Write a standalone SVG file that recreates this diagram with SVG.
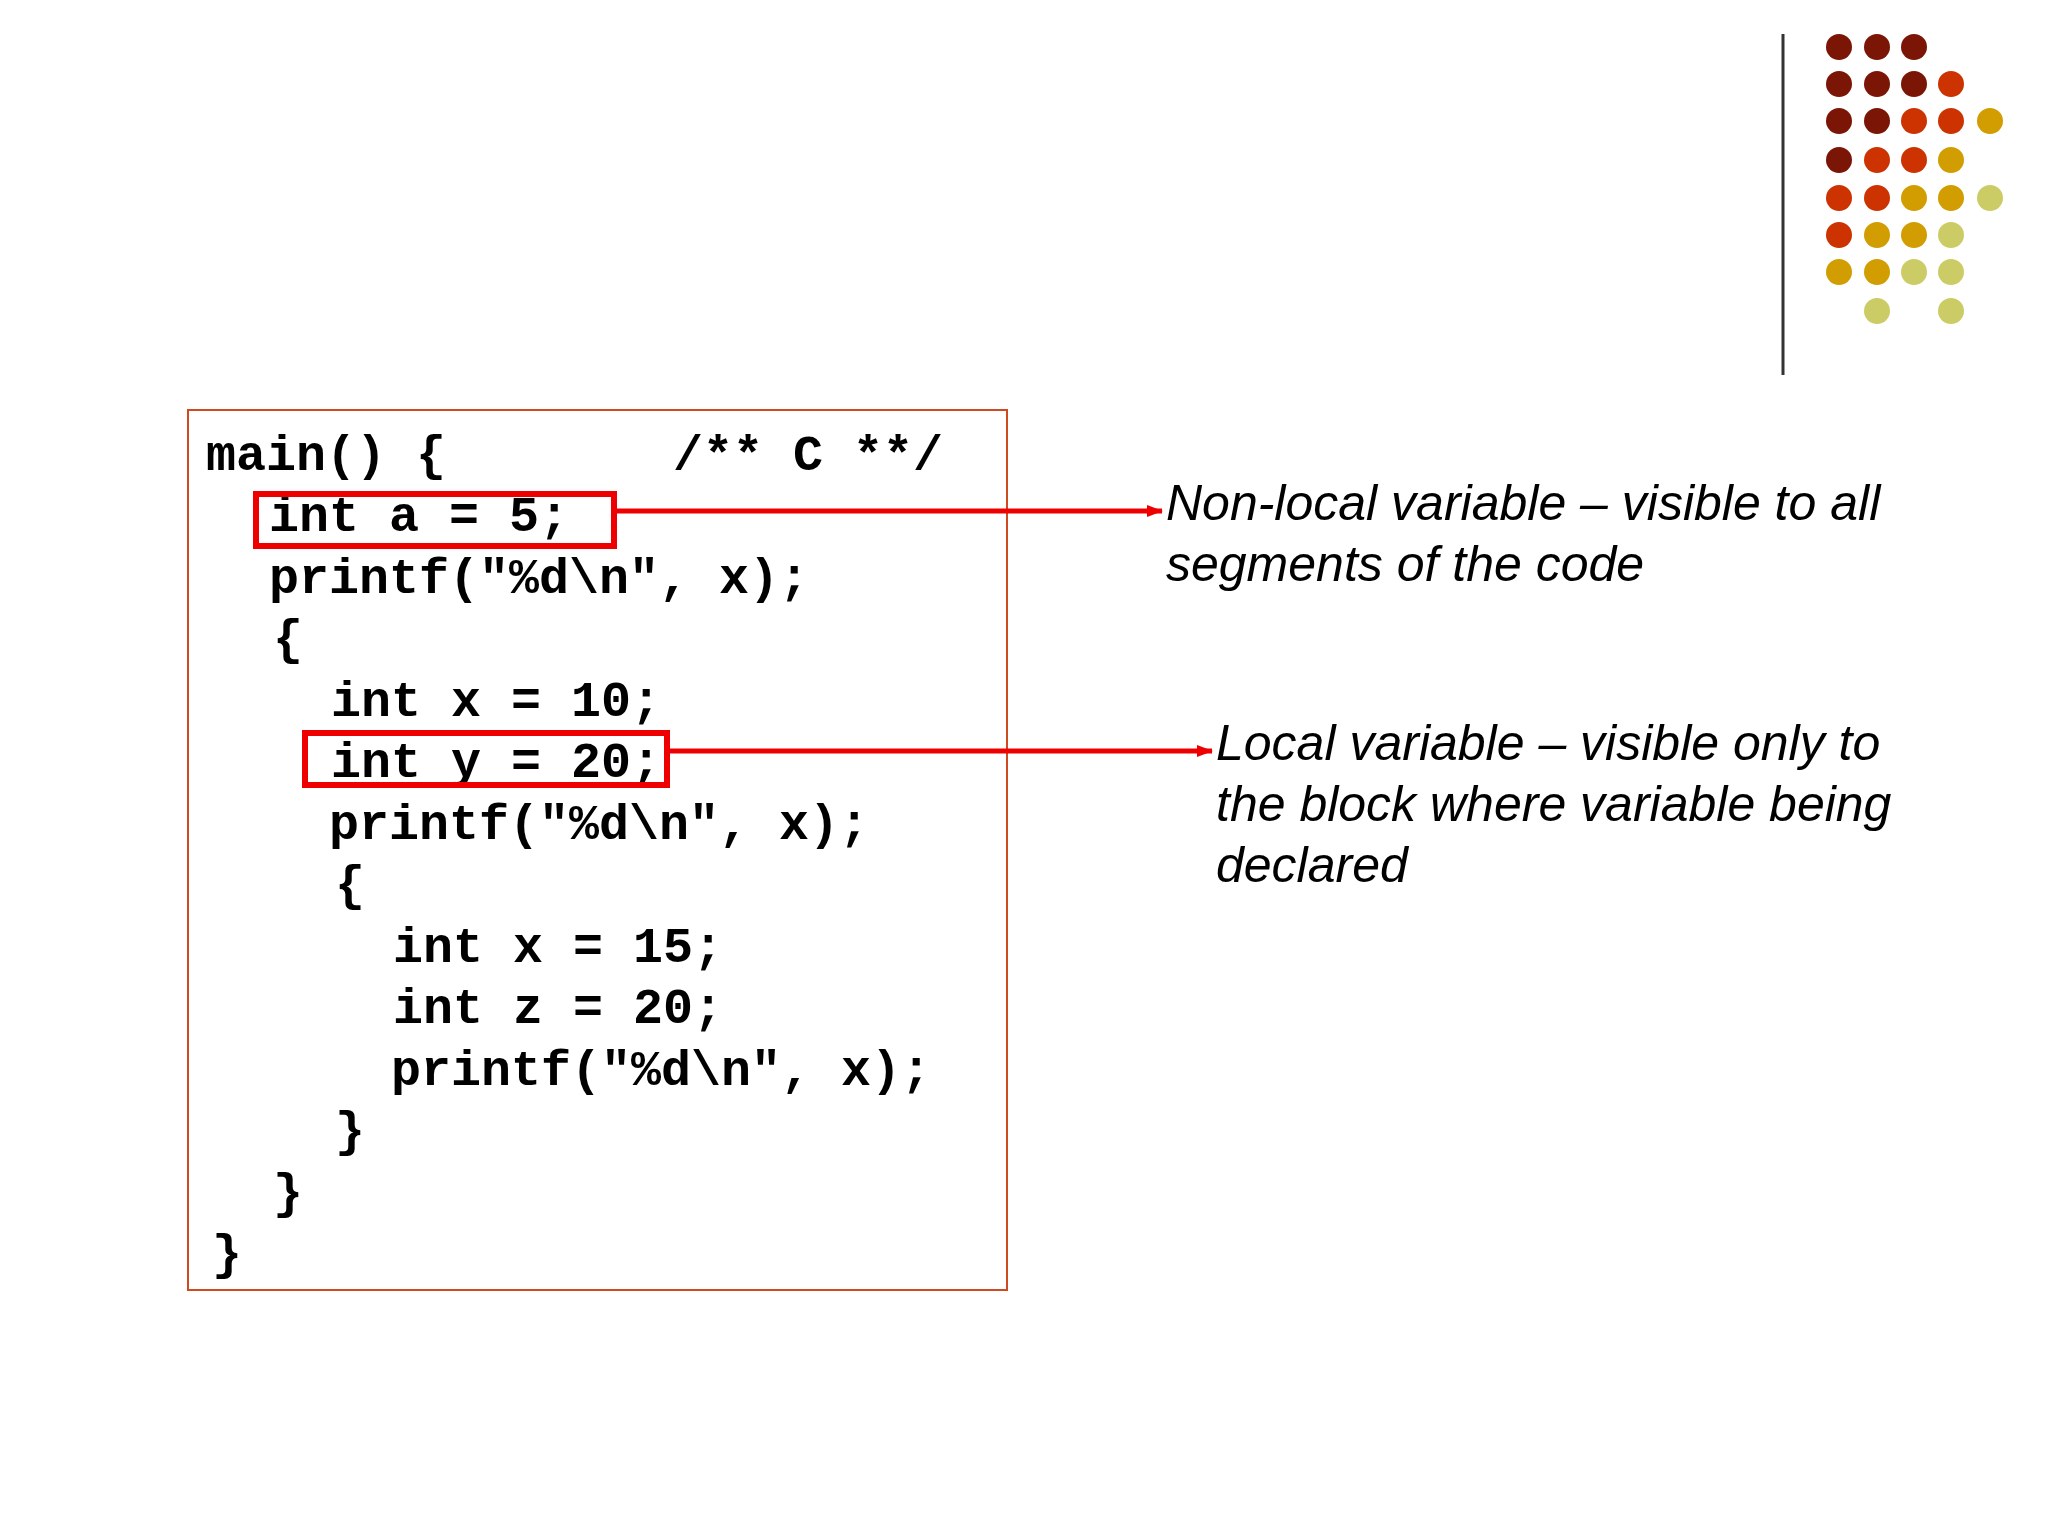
<svg xmlns="http://www.w3.org/2000/svg" width="2048" height="1536" viewBox="0 0 2048 1536">
<style>
.code{font-family:"Liberation Mono","Courier New",monospace;font-weight:bold;font-size:50px;fill:#000}
.note{font-family:"Liberation Sans",Arial,sans-serif;font-style:italic;font-size:50px;fill:#000}
.hl{fill:none;stroke:#ee0000;stroke-width:6}
.arr{stroke:#ee0000;stroke-width:5;fill:none}
.d{fill:#7b1505}.o{fill:#cc3300}.g{fill:#d19d00}.l{fill:#cccc66}
</style>
<defs><marker id="ah" markerWidth="16" markerHeight="12" refX="15" refY="6" orient="auto" markerUnits="userSpaceOnUse"><path d="M0,0 L16,6 L0,12 z" fill="#ee0000"/></marker></defs>
<g id="decor">
<line x1="1783" y1="34" x2="1783" y2="375" stroke="#333" stroke-width="3"/>
<circle class="d" cx="1839" cy="47" r="13"/><circle class="d" cx="1877" cy="47" r="13"/><circle class="d" cx="1914" cy="47" r="13"/>
<circle class="d" cx="1839" cy="84" r="13"/><circle class="d" cx="1877" cy="84" r="13"/><circle class="d" cx="1914" cy="84" r="13"/><circle class="o" cx="1951" cy="84" r="13"/>
<circle class="d" cx="1839" cy="121" r="13"/><circle class="d" cx="1877" cy="121" r="13"/><circle class="o" cx="1914" cy="121" r="13"/><circle class="o" cx="1951" cy="121" r="13"/><circle class="g" cx="1990" cy="121" r="13"/>
<circle class="d" cx="1839" cy="160" r="13"/><circle class="o" cx="1877" cy="160" r="13"/><circle class="o" cx="1914" cy="160" r="13"/><circle class="g" cx="1951" cy="160" r="13"/>
<circle class="o" cx="1839" cy="198" r="13"/><circle class="o" cx="1877" cy="198" r="13"/><circle class="g" cx="1914" cy="198" r="13"/><circle class="g" cx="1951" cy="198" r="13"/><circle class="l" cx="1990" cy="198" r="13"/>
<circle class="o" cx="1839" cy="235" r="13"/><circle class="g" cx="1877" cy="235" r="13"/><circle class="g" cx="1914" cy="235" r="13"/><circle class="l" cx="1951" cy="235" r="13"/>
<circle class="g" cx="1839" cy="272" r="13"/><circle class="g" cx="1877" cy="272" r="13"/><circle class="l" cx="1914" cy="272" r="13"/><circle class="l" cx="1951" cy="272" r="13"/>
<circle class="l" cx="1877" cy="311" r="13"/><circle class="l" cx="1951" cy="311" r="13"/>
</g>
<g id="code">
<rect x="188" y="410" width="819" height="880" fill="none" stroke="#d04a20" stroke-width="2"/>
<text class="code" x="206" y="470">main() {</text>
<text class="code" x="673" y="470">/** C **/</text>
<text class="code" x="269" y="531">int a = 5;</text>
<text class="code" x="269" y="593">printf("%d\n", x);</text>
<text class="code" x="273" y="654">{</text>
<text class="code" x="331" y="716">int x = 10;</text>
<text class="code" x="331" y="777">int y = 20;</text>
<text class="code" x="329" y="839">printf("%d\n", x);</text>
<text class="code" x="335" y="900">{</text>
<text class="code" x="393" y="962">int x = 15;</text>
<text class="code" x="393" y="1023">int z = 20;</text>
<text class="code" x="391" y="1085">printf("%d\n", x);</text>
<text class="code" x="335" y="1146">}</text>
<text class="code" x="273" y="1208">}</text>
<text class="code" x="212" y="1269">}</text>
</g>
<g id="box-a"><rect class="hl" x="256" y="494" width="358" height="52"/></g>
<g id="box-y"><rect class="hl" x="305" y="733" width="362" height="52"/></g>
<g id="connectors">
<line class="arr" x1="614" y1="511" x2="1162" y2="511" marker-end="url(#ah)"/>
<line class="arr" x1="667" y1="751" x2="1212" y2="751" marker-end="url(#ah)"/>
</g>
<g id="note-nonlocal">
<text class="note" x="1166" y="520">Non-local variable – visible to all</text>
<text class="note" x="1166" y="581">segments of the code</text>
</g>
<g id="note-local">
<text class="note" x="1216" y="760">Local variable – visible only to</text>
<text class="note" x="1216" y="821">the block where variable being</text>
<text class="note" x="1216" y="882">declared</text>
</g>
</svg>
